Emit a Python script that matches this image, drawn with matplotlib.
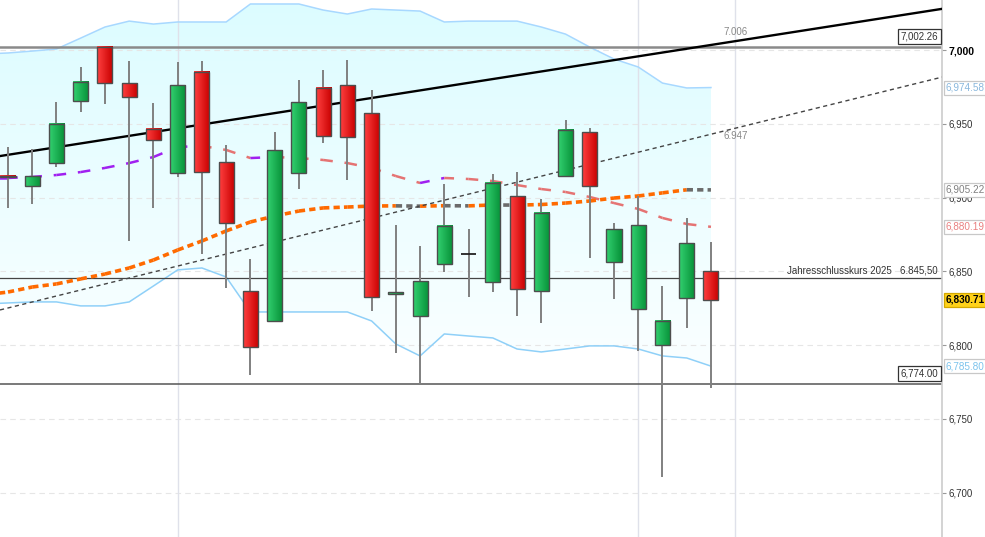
import numpy as np
import matplotlib
matplotlib.use("Agg")
import matplotlib.pyplot as plt
import matplotlib.colors as mcolors
import matplotlib.transforms as mtransforms
from matplotlib.patches import Rectangle

plt.rcParams['font.family'] = ['Liberation Sans', 'DejaVu Sans']
plt.rcParams['lines.scale_dashes'] = False

# candles (daily OHLC)
opens  = [6914.5, 6907.9, 6923.4, 6965.4, 7002.26, 6977.6, 6946.5, 6916.7, 6985.1, 6924.1,
          6836.7, 6816.4, 6916.7, 6974.3, 6976.3, 6957.3, 6834.7, 6819.8, 6855.0, 6861.8,
          6842.8, 6901.1, 6836.7, 6914.6, 6944.4, 6856.4, 6824.5, 6800.1, 6832.0, 6850.3]
highs  = [6934.3, 6932.9, 6964.8, 6988.5, 7002.26, 6992.5, 6964.1, 6991.9, 6992.5, 6935.6,
          6858.4, 6944.4, 6979.7, 6986.4, 6993.2, 6972.9, 6881.4, 6867.2, 6909.2, 6878.7,
          6916.0, 6917.3, 6899.1, 6952.6, 6947.2, 6882.8, 6901.1, 6840.1, 6886.2, 6869.9]
lows   = [6893.0, 6895.7, 6920.7, 6958.0, 6963.4, 6870.6, 6893.0, 6914.0, 6861.8, 6838.8,
          6779.8, 6816.4, 6905.8, 6937.0, 6911.9, 6823.2, 6794.7, 6774.0, 6849.6, 6832.7,
          6836.0, 6819.8, 6815.0, 6914.6, 6859.1, 6831.3, 6796.1, 6710.7, 6811.7, 6771.0]
closes = [6913.8, 6914.6, 6949.9, 6978.3, 6977.6, 6968.2, 6939.0, 6976.3, 6917.3, 6882.8,
          6798.8, 6932.2, 6964.8, 6941.7, 6941.1, 6832.7, 6836.0, 6843.5, 6880.8, 6861.8,
          6909.9, 6838.1, 6889.6, 6945.8, 6907.9, 6878.7, 6881.4, 6816.4, 6869.2, 6830.71]

# indicators, first value belongs to the bar before the visible range
boll_upper = [6997.3, 6998.0, 6999.3, 7000.7, 7008.1, 7015.6, 7019.6, 7017.6, 7019.0, 7019.0,
              7019.0, 7031.2, 7031.2, 7031.2, 7027.1, 7024.4, 7027.8, 7027.1, 7026.4, 7019.0,
              7019.6, 7019.6, 7019.6, 7015.6, 7010.8, 7002.0, 6993.9, 6988.5, 6977.6, 6974.3,
              6974.58]
boll_lower = [6827.9, 6828.6, 6829.3, 6829.3, 6826.6, 6826.6, 6829.3, 6840.1, 6851.0, 6852.3,
              6846.2, 6822.5, 6822.5, 6822.5, 6822.5, 6822.5, 6816.4, 6800.8, 6792.7, 6807.6,
              6806.2, 6804.9, 6797.4, 6795.4, 6797.4, 6799.5, 6799.5, 6797.4, 6792.7, 6791.3,
              6785.80]
boll_mid = [6913.3, 6913.3, 6914.0, 6915.3, 6917.3, 6920.1, 6923.4, 6927.5, 6934.3, 6935.0,
            6932.3, 6926.8, 6927.5, 6926.8, 6925.5, 6923.4, 6920.1, 6914.6, 6909.9, 6913.3,
            6912.6, 6911.2, 6908.5, 6905.8, 6903.8, 6900.4, 6896.3, 6892.3, 6886.2, 6882.1,
            6880.19]
ma_long = [6834.0, 6836.0, 6839.4, 6841.5, 6844.9, 6848.2, 6852.3, 6857.7, 6864.5, 6870.6,
           6877.4, 6883.5, 6887.5, 6890.9, 6893.0, 6893.6, 6894.3, 6894.4, 6894.2, 6894.5,
           6894.4, 6895.0, 6894.9, 6895.3, 6896.3, 6897.7, 6899.7, 6901.1, 6903.2, 6905.3,
           6905.22]

# trend lines: (bar, price) pairs
trend_solid = [(0, 6929.0), (30, 7006.0)]
trend_dashed = [(0, 6825.2), (30, 6947.0)]

year_close = 6845.50
high_level = 7002.26
low_level = 6774.00
yticks = [6700, 6750, 6800, 6850, 6900, 6950, 7000]

n = len(opens)
x = np.arange(n)
xi = np.arange(-1, n)

fig = plt.figure(figsize=(9.85, 5.37), dpi=100)
ax = fig.add_axes([0, 0, 942 / 985, 1])
ax.set_facecolor('white')

# bollinger band fill with gradient
poly = ax.fill_between(xi, boll_lower, boll_upper, facecolor='none', edgecolor='none')
grad = np.linspace(0, 1, 256).reshape(-1, 1)
cmap = mcolors.LinearSegmentedColormap.from_list('band', ['#fbffff', '#dcfcff'])
im = ax.imshow(grad, extent=[-1, n - 1, 6780, 7034], aspect='auto', origin='lower',
               cmap=cmap, zorder=0)
im.set_clip_path(poly.get_paths()[0], ax.transData)
ax.plot(xi, boll_upper, color='#a8d8ff', lw=1.1, zorder=1)
ax.plot(xi, boll_lower, color='#8fd0f8', lw=1.1, zorder=1)

# grid
for yv in yticks:
    ax.axhline(yv, color='#e6e6e6', lw=0.8, dashes=(4, 3), zorder=0.5)
for xv in [7, 26, 30]:
    ax.axvline(xv, color='#dfe1ea', lw=1.0, zorder=0.5)

# horizontal levels
ax.axhline(high_level, color='#8a8a8a', lw=1.8, zorder=2)
ax.axhline(low_level, color='#555555', lw=1.1, zorder=2)
ax.axhline(year_close, color='#444444', lw=0.9, zorder=2)

# moving averages, coloured by direction
for i in range(len(xi) - 1):
    up = boll_mid[i + 1] >= boll_mid[i]
    ax.plot(xi[i:i + 2], boll_mid[i:i + 2], color='#a020f0' if up else '#e57373',
            lw=1.8, dashes=(7, 8.5), zorder=3)
for i in range(len(xi) - 1):
    up = ma_long[i + 1] >= ma_long[i]
    ax.plot(xi[i:i + 2], ma_long[i:i + 2], color='#ff6a00' if up else '#6b6b6b',
            lw=2.6, dashes=(4.5, 3), zorder=3)

# trend lines
ax.axline(trend_solid[0], trend_solid[1], color='black', lw=1.7, zorder=4)
ax.axline(trend_dashed[0], trend_dashed[1], color='#444444', lw=1.0, dashes=(3, 2.5), zorder=4)

# candles with a left-to-right shading in the body
green_cmap = mcolors.LinearSegmentedColormap.from_list('g', ['#33d070', '#069238'])
red_cmap = mcolors.LinearSegmentedColormap.from_list('r', ['#ff4040', '#c80000'])
hgrad = np.linspace(0, 1, 32).reshape(1, -1)
w = 0.62
for i in range(n):
    o, h, l, c = opens[i], highs[i], lows[i], closes[i]
    ax.vlines(x[i], l, h, color='#808080', lw=1.4, zorder=5)
    if abs(c - o) < 0.3:
        ax.hlines(c, x[i] - w / 2, x[i] + w / 2, color='#222222', lw=1.3, zorder=6)
        continue
    lo, hi = min(o, c), max(o, c)
    body = ax.imshow(hgrad, extent=[x[i] - w / 2, x[i] + w / 2, lo, hi], aspect='auto',
                     cmap=green_cmap if c > o else red_cmap, zorder=6, interpolation='bilinear')
    ax.add_patch(Rectangle((x[i] - w / 2, lo), w, hi - lo, facecolor='none',
                           edgecolor='#4d4d4d', lw=1.0, zorder=6.5))

# annotations
ax.annotate('7.006', (30, 7006), xytext=(0, 3), textcoords='offset points',
            ha='center', va='bottom', fontsize=7, color='#888888')
ax.annotate('6.947', (30, 6947), xytext=(0, -2), textcoords='offset points',
            ha='center', va='top', fontsize=7, color='#888888')
ax.annotate('Jahresschlusskurs 2025   6.845,50', (38.35, year_close), xytext=(0, 2),
            textcoords='offset points', ha='right', va='bottom', fontsize=7, color='#333333')
box = dict(boxstyle='square,pad=0.25', facecolor='white', edgecolor='#333333', lw=0.9)
ax.annotate('7,002.26', (38.5, high_level), xytext=(-2, 3.5), textcoords='offset points',
            ha='right', va='bottom', fontsize=7, color='#333333', bbox=box)
ax.annotate('6,774.00', (38.5, low_level), xytext=(-2, 3.5), textcoords='offset points',
            ha='right', va='bottom', fontsize=7, color='#333333', bbox=box)

ax.set_xlim(-8 / 24.24, (942 - 8) / 24.24)
ax.set_ylim(6670, 7033.9)

# right axis
ax.yaxis.tick_right()
ax.set_yticks(yticks)
ax.set_yticklabels([f'{v:,}' for v in yticks])
ax.tick_params(axis='y', length=3, width=0.8, color='#999999', labelsize=7,
               labelcolor='#333333', pad=2)
ax.set_xticks([])
for lab in ax.get_yticklabels():
    if lab.get_text() == '7,000':
        lab.set_fontweight('bold')
        lab.set_color('black')
        lab.set_fontsize(7.5)
for side in ['top', 'left', 'bottom']:
    ax.spines[side].set_visible(False)
ax.spines['right'].set_color('#cccccc')
ax.spines['right'].set_linewidth(1.2)

trans = mtransforms.blended_transform_factory(ax.transAxes, ax.transData)
side_labels = [
    (6974.58, '6,974.58', '#8ab8dd', 'white', '#c8c8c8', 'normal'),
    (6905.22, '6,905.22', '#808080', 'white', '#c8c8c8', 'normal'),
    (6880.19, '6,880.19', '#e98080', 'white', '#c8c8c8', 'normal'),
    (6830.71, '6,830.71', 'black', '#ffd21a', '#d4a800', 'bold'),
    (6785.80, '6,785.80', '#7cc3ec', 'white', '#c8c8c8', 'normal'),
]
for yv, txt, tc, fc, ec, fw in side_labels:
    ax.text(1.004, yv, txt, transform=trans, ha='left', va='center', fontsize=7.2,
            color=tc, fontweight=fw, clip_on=False, zorder=10,
            bbox=dict(boxstyle='square,pad=0.2', facecolor=fc, edgecolor=ec, lw=0.9))

plt.savefig('out.png', dpi=100)
plt.close()
